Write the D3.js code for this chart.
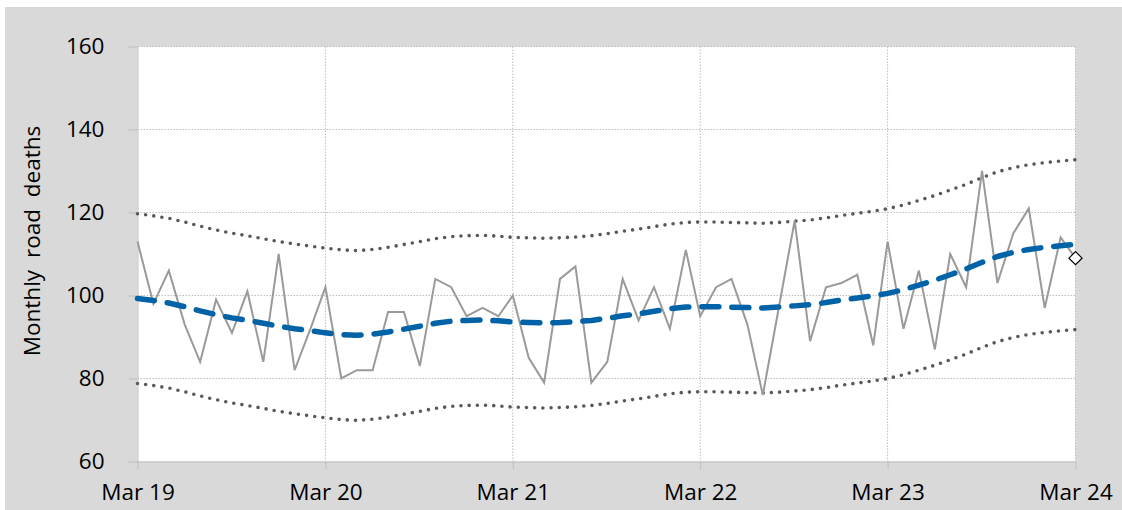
<!DOCTYPE html>
<html>
<head>
<meta charset="utf-8">
<script src="https://cdn.jsdelivr.net/npm/d3@7"></script>
<style>
  body { margin: 0; background: #fff; }
  svg { display: block; }
  text { font-family: "Open Sans", "Noto Sans", sans-serif; fill: #000; }
</style>
</head>
<body>
<svg id="chart" width="1122" height="510"></svg>
<script>
'use strict';

// monthly values, Mar 2019 .. Mar 2024
var deaths = [113, 98, 106, 93, 84, 99, 91, 101, 84, 110, 82, 92,
  102, 80, 82, 82, 96, 96, 83, 104, 102, 95, 97, 95,
  100, 85, 79, 104, 107, 79, 84, 104, 94, 102, 92, 111,
  95, 102, 104, 93, 76, 97, 118, 89, 102, 103, 105, 88,
  113, 92, 106, 87, 110, 102, 130, 103, 115, 121, 97, 114, 109];

var trend = [99.3, 98.8, 98.2, 97.3, 96.3, 95.4, 94.6, 94.0, 93.3, 92.6, 92.0, 91.5,
  91.0, 90.6, 90.4, 90.7, 91.2, 91.9, 92.6, 93.3, 93.8, 94.0, 94.1, 93.9,
  93.6, 93.5, 93.4, 93.5, 93.7, 94.0, 94.5, 95.1, 95.6, 96.2, 96.8, 97.2,
  97.3, 97.3, 97.2, 97.1, 97.0, 97.2, 97.5, 97.8, 98.3, 98.9, 99.4, 99.9,
  100.5, 101.4, 102.5, 103.7, 105.0, 106.4, 108.0, 109.4, 110.4, 111.1, 111.6, 112.0, 112.3];

var upper = [119.7, 119.2, 118.6, 117.7, 116.7, 115.8, 115.0, 114.4, 113.7, 113.0, 112.4, 111.9,
  111.4, 111.0, 110.8, 111.1, 111.6, 112.3, 113.0, 113.7, 114.2, 114.4, 114.5, 114.3,
  114.0, 113.9, 113.8, 113.9, 114.1, 114.4, 114.9, 115.5, 116.0, 116.6, 117.2, 117.6,
  117.7, 117.7, 117.6, 117.5, 117.4, 117.6, 117.9, 118.2, 118.7, 119.3, 119.8, 120.3,
  120.9, 121.8, 122.9, 124.1, 125.4, 126.8, 128.4, 129.8, 130.8, 131.5, 132.0, 132.4, 132.7];

var lower = [78.8, 78.3, 77.7, 76.8, 75.8, 74.9, 74.1, 73.5, 72.8, 72.1, 71.5, 71.0,
  70.5, 70.1, 69.9, 70.2, 70.7, 71.4, 72.1, 72.8, 73.3, 73.5, 73.6, 73.4,
  73.1, 73.0, 72.9, 73.0, 73.2, 73.5, 74.0, 74.6, 75.1, 75.7, 76.3, 76.7,
  76.8, 76.8, 76.7, 76.6, 76.5, 76.7, 77.0, 77.3, 77.8, 78.4, 78.9, 79.4,
  80.0, 80.9, 82.0, 83.2, 84.5, 85.9, 87.5, 88.9, 89.9, 90.6, 91.1, 91.5, 91.8];

var yTicks = [60, 80, 100, 120, 140, 160];
var yearTicks = [2019, 2020, 2021, 2022, 2023, 2024];
var yLabel = 'Monthly road deaths';

var months = deaths.map(function (d, i) { return new Date(Date.UTC(2019, 2 + i, 1)); });
var xTickDates = yearTicks.map(function (y) { return new Date(Date.UTC(y, 2, 1)); });

var svg = d3.select('#chart');
var margin = { left: 137.5, right: 1075.5, top: 46.5, bottom: 461.5 };

// grey chart area
svg.append('rect')
    .attr('x', 5).attr('y', 7)
    .attr('width', 1117).attr('height', 503)
    .attr('fill', '#d9d9d9');

svg.append('rect')
    .attr('x', margin.left).attr('y', margin.top)
    .attr('width', margin.right - margin.left)
    .attr('height', margin.bottom - margin.top)
    .attr('fill', '#fff');

var x = d3.scaleUtc()
    .domain([months[0], months[months.length - 1]])
    .range([margin.left, margin.right]);

var y = d3.scaleLinear()
    .domain([60, 160])
    .range([margin.bottom, margin.top]);

// gridlines
var grid = svg.append('g').attr('class', 'grid');
grid.selectAll('line.h')
    .data(yTicks.slice(1))
    .enter().append('line')
    .attr('x1', margin.left).attr('x2', margin.right)
    .attr('y1', function (d) { return y(d); })
    .attr('y2', function (d) { return y(d); })
    .attr('stroke', '#bdbdbd')
    .attr('stroke-dasharray', '1.5 1.5');

grid.selectAll('line.v')
    .data(xTickDates.slice(1))
    .enter().append('line')
    .attr('x1', function (d) { return x(d); })
    .attr('x2', function (d) { return x(d); })
    .attr('y1', margin.top).attr('y2', margin.bottom)
    .attr('stroke', '#bdbdbd')
    .attr('stroke-dasharray', '1.5 1.5');

// axes
var yAxis = d3.axisLeft(y)
    .tickValues(yTicks)
    .tickSize(9)
    .tickSizeOuter(0)
    .tickPadding(16);

var gy = svg.append('g')
    .attr('transform', 'translate(' + margin.left + ',0)')
    .call(yAxis);
gy.select('.domain').attr('stroke', '#bfbfbf');
gy.selectAll('.tick line').attr('stroke', '#bfbfbf');
gy.selectAll('.tick text')
    .attr('font-size', 22.5)
    .attr('font-family', '"Open Sans", sans-serif')
    .attr('fill', '#000')
    .attr('dx', '-8');

var xAxis = d3.axisBottom(x)
    .tickValues(xTickDates)
    .tickFormat(d3.utcFormat('%b %y'))
    .tickSize(8)
    .tickSizeOuter(0)
    .tickPadding(15);

var gx = svg.append('g')
    .attr('transform', 'translate(0,' + margin.bottom + ')')
    .call(xAxis);
gx.select('.domain').attr('stroke', '#bfbfbf');
gx.selectAll('.tick line').attr('stroke', '#bfbfbf');
gx.selectAll('.tick text')
    .attr('font-size', 22.5)
    .attr('font-family', '"Open Sans", sans-serif')
    .attr('fill', '#000');

svg.append('text')
    .attr('transform', 'translate(40,241) rotate(-90)')
    .attr('text-anchor', 'middle')
    .attr('font-size', 22.5)
    .attr('word-spacing', 6)
    .text(yLabel);

// lines
var line = d3.line()
    .x(function (d, i) { return x(months[i]); })
    .y(function (d) { return y(d); });

var plot = svg.append('g');

plot.append('path')
    .datum(upper)
    .attr('d', line)
    .attr('fill', 'none')
    .attr('stroke', '#595959')
    .attr('stroke-width', 3.6)
    .attr('stroke-linecap', 'round')
    .attr('stroke-dasharray', '0 8.2');

plot.append('path')
    .datum(lower)
    .attr('d', line)
    .attr('fill', 'none')
    .attr('stroke', '#595959')
    .attr('stroke-width', 3.6)
    .attr('stroke-linecap', 'round')
    .attr('stroke-dasharray', '0 8.2');

plot.append('path')
    .datum(deaths)
    .attr('d', line)
    .attr('fill', 'none')
    .attr('stroke', '#9a9a9a')
    .attr('stroke-width', 2);

plot.append('path')
    .datum(trend)
    .attr('d', line)
    .attr('fill', 'none')
    .attr('stroke', '#0063a8')
    .attr('stroke-width', 5.5)
    .attr('stroke-linecap', 'round')
    .attr('stroke-dasharray', '17 13');

// last month marker
var last = deaths.length - 1;
plot.append('path')
    .attr('d', d3.symbol().type(d3.symbolDiamond2).size(110))
    .attr('transform', 'translate(' + x(months[last]) + ',' + y(deaths[last]) + ')')
    .attr('fill', '#fff')
    .attr('stroke', '#000')
    .attr('stroke-width', 1.2);
</script>
</body>
</html>
